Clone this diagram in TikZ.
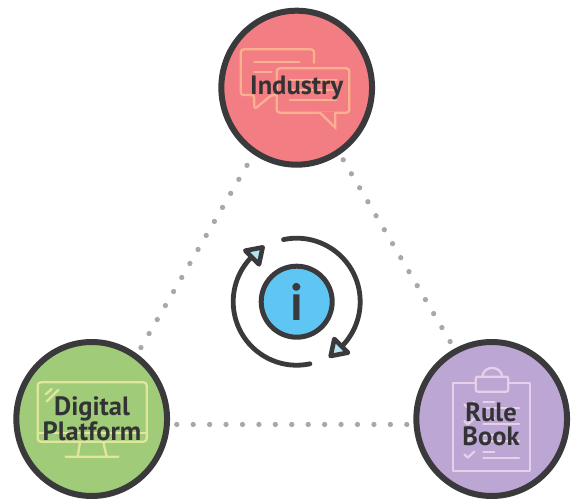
\documentclass[tikz,border=0pt]{standalone}
\usepackage{fontspec}
\usetikzlibrary{shapes.geometric}
\setmainfont{PT Sans}
\newfontfamily\infofont{Lato}
\definecolor{ink}{HTML}{3A3A3C}
\definecolor{labelink}{HTML}{333335}
\definecolor{dotgray}{HTML}{A8A8A8}
\definecolor{pinkfill}{HTML}{F27E83}
\definecolor{greenfill}{HTML}{A0CB78}
\definecolor{purplefill}{HTML}{BCA6D4}
\definecolor{bluefill}{HTML}{5FC6F3}
\definecolor{arrowfill}{HTML}{B5E5F0}
\definecolor{pinkicon}{HTML}{FBB08F}
\definecolor{greenicon}{HTML}{E0E79A}
\definecolor{purpleicon}{HTML}{E8D0EA}
\tikzset{
  x=1pt,y=1pt,
  bigcircle/.style={ellipse,draw=ink,line width=6pt,minimum width=150.7pt,minimum height=154pt,inner sep=0pt},
  hubcircle/.style={circle,draw=ink,line width=5pt,fill=bluefill,minimum size=71pt,inner sep=0pt},
  dotline/.style={dotgray,line width=5.3pt,line cap=round,dash pattern=on 0pt off 16.22pt},
  ring/.style={ink,line width=4.8pt,line cap=round},
  ringhead/.style={draw=ink,fill=arrowfill,line width=4.6pt,line join=round},
  iconline/.style={line width=2.3pt,line cap=round,line join=round},
  label/.style={text=labelink,font=\fontsize{26.5}{24}\selectfont\bfseries,align=center,inner sep=0pt},
}
\begin{document}
\begin{tikzpicture}
\useasboundingbox (0,0) rectangle (579,499);
% circles
\node[bigcircle,fill=pinkfill] (ind) at (296.7,411.3) {};
\node[bigcircle,fill=greenfill] (dig) at (91.7,80) {};
\node[bigcircle,fill=purplefill] (rul) at (491.7,80) {};
\node[hubcircle] (info) at (296.7,197.3) {};
% dotted connectors
\draw[dotline,shorten <=12.7pt,shorten >=6.4pt] (ind.237) -- (dig.55.7);
\draw[dotline,shorten <=6.3pt,shorten >=8.1pt] (ind.303) -- (rul.118);
\draw[dotline,dash pattern=on 0pt off 16.43pt,shorten <=6.9pt,shorten >=5.4pt] (dig.-4.1) -- (rul.184.1);
% industry icon
\begin{scope}[shift={(210,499)},xscale=1/3,yscale=-1/3,pinkicon,iconline]
\draw[rounded corners=3pt] (312,188) -- (312,148) -- (92,148) -- (92,285) -- (133,285) -- (133,328) -- (185,285) -- (198,285);
\draw (133,185) -- (268,185) (133,215) -- (185,215);
\draw[rounded corners=3pt] (200,205) rectangle (418,338);
\draw[fill=pinkfill,draw=none] (325,336) -- (376,380) -- (376,336) -- cycle;
\draw[line join=miter] (330,338) -- (376,383) -- (376,338);
\draw (240,240) -- (380,240) (240,270) -- (380,270) (240,300) -- (378,300);
\end{scope}
% monitor icon
\begin{scope}[shift={(5,499-335)},xscale=1/3,yscale=-1/3,greenicon,iconline]
\draw[rounded corners=3pt] (98,142) rectangle (425,320);
\draw (98,295) -- (425,295);
\draw (225,322) -- (218,365) (295,322) -- (305,365) (182,365) -- (340,365);
\draw (122,178) -- (140,162) (125,200) -- (160,165);
\end{scope}
% clipboard icon
\begin{scope}[shift={(405,499-335)},xscale=1/3,yscale=-1/3,purpleicon,iconline]
\draw (210,145) -- (145,145) -- (145,408) -- (375,408) -- (375,145) -- (312,145);
\draw[rounded corners=2pt] (212,125) rectangle (310,170);
\draw (232,125) .. controls (235,90) and (288,90) .. (292,125);
\foreach \dy in {-150,-100,-50,0}{
  \draw (235,350+\dy) -- (268,350+\dy) (235,368+\dy) -- (342,368+\dy);
  \draw (178,358+\dy) -- (188,368+\dy) -- (208,350+\dy);
}
\end{scope}
% ring arrows
\draw[ring] ([shift={(102:63.5pt)}]info.center) arc[start angle=102,end angle=-46,radius=63.5pt];
\draw[ring] ([shift={(-78:63.5pt)}]info.center) arc[start angle=-78,end angle=-226,radius=63.5pt];
\begin{scope}[shift={(220,499-225)},xscale=1/3,yscale=-1/3]
\draw[ringhead] (343,342) -- (384,383) -- (332,393) -- cycle;
\draw[ringhead] (117,118) -- (76,77) -- (128,67) -- cycle;
\end{scope}
% labels
\node[label] (indlabel) at (296.7,411.5) {Industry};
\node[label] (diglabel) at (92,80) {Digital\\Platform};
\node[label] (rullabel) at (491,74.5) {Rule\\Book};
\node[text=ink,font=\fontsize{50}{50}\selectfont\infofont\bfseries,inner sep=0pt] (infolabel) at (info.center) {i};
\end{tikzpicture}
\end{document}
